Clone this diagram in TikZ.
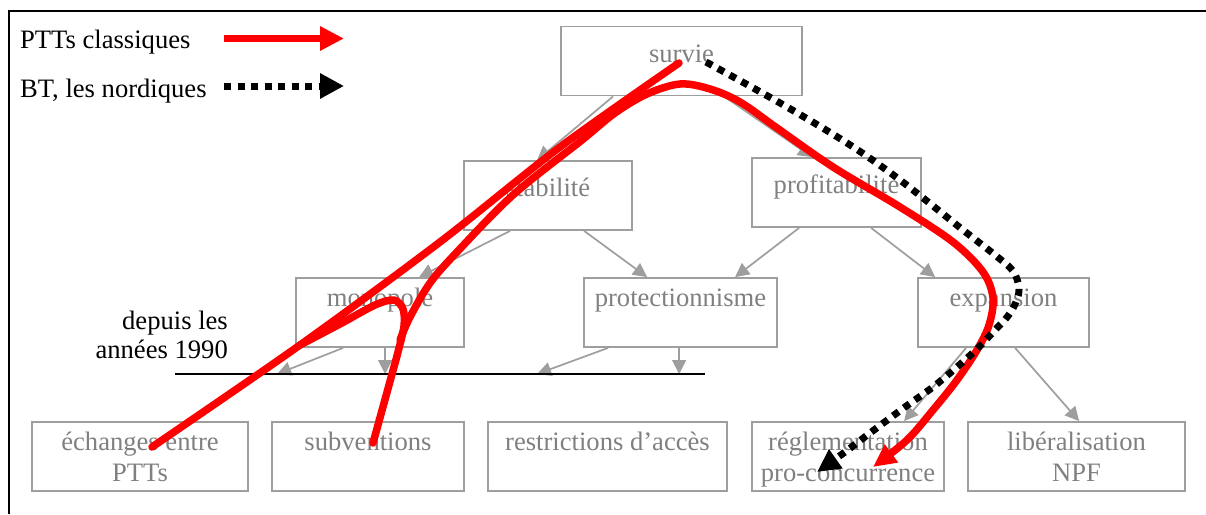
\documentclass[tikz,border=0pt]{standalone}
\usepackage{fontspec}
\setmainfont{Liberation Serif}
\usetikzlibrary{arrows.meta}
\definecolor{txtgray}{RGB}{128,128,128}
\definecolor{linegray}{RGB}{158,158,158}
\definecolor{pttred}{RGB}{255,0,0}
\begin{document}
\begin{tikzpicture}[x=1pt,y=-1pt,
  every node/.style={font=\fontsize{26.6}{31}\selectfont},
  box/.style={draw=linegray, line width=1.8pt, inner sep=0pt, minimum height=69pt},
  lbl/.style={text=txtgray, anchor=base, inner sep=0pt},
  note/.style={text=black, inner sep=0pt},
  link/.style={draw=linegray, line width=1.7pt, -{Triangle[length=14pt,width=14pt]}},
  pttpath/.style={draw=pttred, line width=7.5pt, line cap=round, line join=round},
  btpath/.style={draw=black, line width=7pt, dash pattern=on 7pt off 6.5pt},
]
\useasboundingbox (0,0) rectangle (1206,514);

% frame
\draw[line width=2pt] (8.5,514) -- (8.5,10.5) -- (1206,10.5);

% boxes
\node[box, minimum width=241pt] (survie) at (681.5,61) {};
\node[box, minimum width=168pt] (stab)   at (548,195.5) {};
\node[box, minimum width=169pt] (prof)   at (836.5,192.5) {};
\node[box, minimum width=168pt] (mono)   at (380,312.5) {};
\node[box, minimum width=193pt] (prot)   at (680.5,312.5) {};
\node[box, minimum width=171pt] (exp)    at (1003.5,312.5) {};
\node[box, minimum width=216pt] (ech)    at (140,456.5) {};
\node[box, minimum width=192pt] (subv)   at (368,456.5) {};
\node[box, minimum width=239pt] (restr)  at (607.5,456.5) {};
\node[box, minimum width=192pt] (regl)   at (848,456.5) {};
\node[box, minimum width=217pt] (lib)    at (1076.5,456.5) {};

% box texts
\node[lbl] (survie-t) at (681.5,62) {survie};
\node[lbl] (stab-t)   at (548,196) {stabilité};
\node[lbl] (prof-t)   at (836.5,193) {profitabilité};
\node[lbl] (mono-t)   at (380,306) {monopole};
\node[lbl] (prot-t)   at (680.5,306) {protectionnisme};
\node[lbl] (exp-t)    at (1003.5,306) {expansion};
\node[lbl] (ech-a)    at (140,450) {échanges entre};
\node[lbl] (ech-b)    at (140,481) {PTTs};
\node[lbl] (subv-t)   at (368,450) {subventions};
\node[lbl] (restr-t)  at (607.5,450) {restrictions d’accès};
\node[lbl] (regl-a)   at (848,450) {réglementation};
\node[lbl] (regl-b)   at (848,481) {pro-concurrence};
\node[lbl] (lib-a)    at (1076.5,450) {libéralisation};
\node[lbl] (lib-b)    at (1076.5,481) {NPF};

% the 1990s cut
\coordinate (cut-l) at (175,374);
\coordinate (cut-r) at (705,374);
\node[note, anchor=base east] (since-a) at (228,329) {depuis les};
\node[note, anchor=base east] (since-b) at (228,358) {années 1990};

% hierarchy links
\draw[link] ([xshift=53pt]survie.south west) -- ([xshift=74pt]stab.north west);
\draw[link] ([xshift=164pt]survie.south west) -- ([xshift=61pt]prof.north west);
\draw[link] ([xshift=47pt]stab.south west) -- ([xshift=124pt]mono.north west);
\draw[link] ([xshift=121pt]stab.south west) -- ([xshift=64pt]prot.north west);
\draw[link] ([xshift=48pt]prof.south west) -- ([xshift=152pt]prot.north west);
\draw[link] ([xshift=120pt]prof.south west) -- ([xshift=18pt]exp.north west);
\draw[link] ([xshift=48pt]mono.south west) -- ([xshift=-18pt]mono.south west |- cut-l);
\draw[link] ([xshift=90pt]mono.south west) -- ([xshift=90pt]mono.south west |- cut-l);
\draw[link] ([xshift=25pt]prot.south west) -- ([xshift=-46pt]prot.south west |- cut-l);
\draw[link] ([xshift=96pt]prot.south west) -- ([xshift=96pt]prot.south west |- cut-l);
\draw[link] ([xshift=49pt]exp.south west) -- ([xshift=153pt]regl.north west);
\draw[link] ([xshift=98pt]exp.south west) -- ([xshift=112pt]lib.north west);

\draw[line width=2pt] (cut-l) -- (cut-r);

% legend
\node[note, anchor=base west] (leg-ptt) at (20,48) {PTTs classiques};
\node[note, anchor=base west] (leg-bt)  at (20,97) {BT, les nordiques};
\coordinate (leg-ptt-a) at (224,38.5);
\coordinate (leg-ptt-b) at (344,38.5);
\coordinate (leg-bt-a) at (224,86);
\coordinate (leg-bt-b) at (344,86);
\draw[draw=pttred, line width=7pt, -{Triangle[length=24pt,width=23pt]}] (leg-ptt-a) -- (leg-ptt-b);
\draw[btpath, -{Triangle[length=24pt,width=24pt]}] (leg-bt-a) -- (leg-bt-b);

% PTT route: survie down to exchanges, hook at monopole to subsidies,
% then over the top and down to pro-competition regulation
\coordinate (r-start) at (679,63);
\coordinate (r-ech) at (152,447);
\coordinate (r-subv) at (373,443);
\coordinate (r-tip) at (873,467);
\draw[pttpath] plot[smooth, tension=0.5] coordinates {
  (r-start) (560,147) (440,242) (300,345) (r-ech)};
\draw[pttpath] plot[smooth, tension=0.5] coordinates {
  (300,345) (340,324) (375,305) (394,300) (403,309) (404,326)
  (398,352) (389,385) (r-subv)};
\draw[pttpath, -{Triangle[length=23pt,width=21pt]}] plot[smooth, tension=0.55] coordinates {
  (400,340) (410,317) (430,283) (457,252) (513,195) (582,140) (615,113)
  (647,94) (680,84) (710,89) (740,102) (777,128) (833,167) (900,207)
  (953,242) (983,272) (993,298) (989,325) (977,350) (957,380) (933,410)
  (907,440) (r-tip)};

% BT / Nordic route
\coordinate (bt-start) at (706,62);
\coordinate (bt-tip) at (817,472);
\draw[btpath, -{Triangle[length=23pt,width=22pt]}] plot[smooth, tension=0.55] coordinates {
  (bt-start) (780,103) (847,143) (900,180) (963,230) (995,255) (1013,271)
  (1019,288) (1016,302) (1008,316) (995,330) (978,348) (957,367) (933,387)
  (905,407) (870,433) (845,452) (bt-tip)};
\end{tikzpicture}
\end{document}
